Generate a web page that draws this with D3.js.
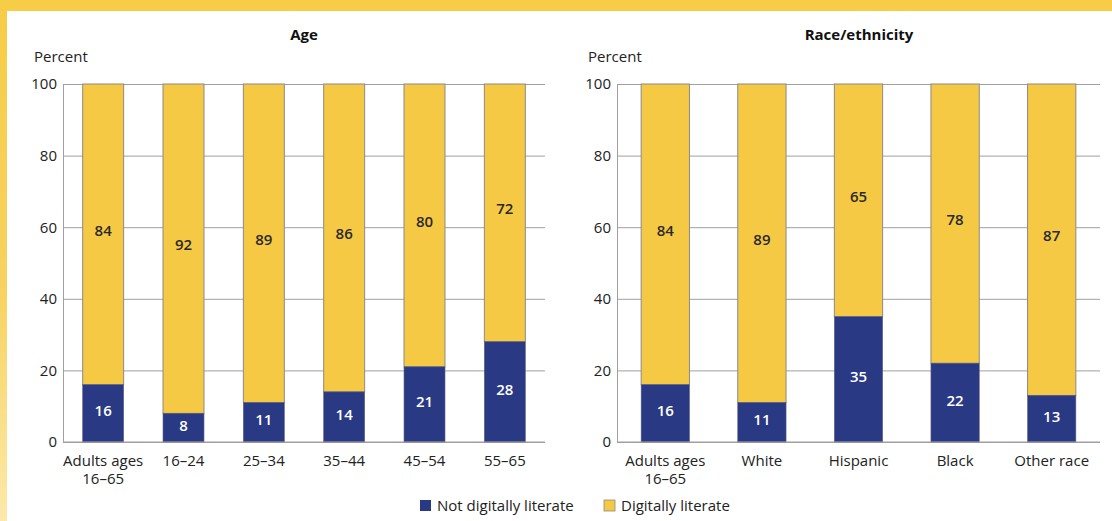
<!DOCTYPE html>
<html><head><meta charset="utf-8">
<script src="https://cdn.jsdelivr.net/npm/d3@7"></script>
<style>
html,body{margin:0;padding:0;background:#fff;}
svg{display:block;}
text{font-family:"Open Sans","Noto Sans",sans-serif;}
</style></head>
<body>
<script>
const ageCategories = [["Adults ages","16–65"],["16–24"],["25–34"],["35–44"],["45–54"],["55–65"]];
const ageNotLiterate = [16, 8, 11, 14, 21, 28];
const ageLiterate = [84, 92, 89, 86, 80, 72];
const raceCategories = [["Adults ages","16–65"],["White"],["Hispanic"],["Black"],["Other race"]];
const raceNotLiterate = [16, 11, 35, 22, 13];
const raceLiterate = [84, 89, 65, 78, 87];
const yTicks = [0, 20, 40, 60, 80, 100];
const seriesNames = ["Not digitally literate", "Digitally literate"];
const panelTitles = ["Age", "Race/ethnicity"];

const W = 1112, H = 521;
const NAVY = "#2a3984", YELLOW = "#f6c944", GRID = "#a0a0a0";
const FS = 15;
const svg = d3.select("body").append("svg").attr("width", W).attr("height", H);

const defs = svg.append("defs");
const lg = defs.append("linearGradient").attr("id","lg").attr("x1",0).attr("y1",0).attr("x2",0).attr("y2",1);
lg.append("stop").attr("offset","0%").attr("stop-color","#f7cc47");
lg.append("stop").attr("offset","55%").attr("stop-color","#f8d260");
lg.append("stop").attr("offset","100%").attr("stop-color","#fce9ab");
svg.append("rect").attr("x",0).attr("y",0).attr("width",W).attr("height",11).attr("fill","#f7cc47");
svg.append("rect").attr("x",0).attr("y",0).attr("width",7).attr("height",H).attr("fill","url(#lg)");

const y = d3.scaleLinear().domain([0,100]).range([442, 84]);

function panel(cfg){
  const g = svg.append("g");
  const x = d3.scaleBand().domain(d3.range(cfg.cats.length)).range([cfg.x0, cfg.x1])
    .paddingInner(cfg.pi).paddingOuter(cfg.po);
  g.append("text").attr("x", cfg.titleX).attr("y", 40).attr("text-anchor","middle")
    .attr("font-size",FS).attr("font-weight",700).attr("fill","#111").text(cfg.title);
  g.append("text").attr("x", cfg.percentX).attr("y", 62).attr("font-size",FS).attr("fill","#222").text("Percent");
  const ax = d3.axisLeft(y).tickValues(yTicks).tickSize(-(cfg.x1 - cfg.x0)).tickPadding(6);
  const ga = g.append("g").attr("transform",`translate(${cfg.x0},0)`).call(ax);
  ga.select(".domain").attr("stroke", GRID);
  ga.selectAll(".tick line").attr("stroke", GRID).attr("stroke-width",1);
  ga.selectAll(".tick text").attr("font-size",FS).attr("fill","#222")
    .attr("font-family",'"Open Sans","Noto Sans",sans-serif');
  cfg.cats.forEach((c,i)=>{
    const xb = x(i), bw = x.bandwidth();
    const nv = cfg.not[i], lv = cfg.lit[i];
    const top = Math.min(100, nv+lv);
    g.append("rect").attr("x", xb).attr("y", y(top)).attr("width", bw).attr("height", y(nv)-y(top))
      .attr("fill", YELLOW).attr("stroke","#8a8a8a").attr("stroke-width",1);
    g.append("rect").attr("x", xb).attr("y", y(nv)).attr("width", bw).attr("height", y(0)-y(nv))
      .attr("fill", NAVY).attr("stroke","#5a5f80").attr("stroke-width",0.6);
    g.append("text").attr("x", xb+bw/2).attr("y", y(nv/2)).attr("dy","0.2em").attr("text-anchor","middle")
      .attr("font-size",FS).attr("font-weight",600).attr("fill","#fff").text(nv);
    g.append("text").attr("x", xb+bw/2).attr("y", y((nv+top)/2)).attr("dy","0.1em").attr("text-anchor","middle")
      .attr("font-size",FS).attr("font-weight",600).attr("fill","#2a2a2a").text(lv);
    c.forEach((line,k)=>{
      g.append("text").attr("x", xb+bw/2).attr("y", 466 + k*18).attr("text-anchor","middle")
        .attr("font-size",FS).attr("fill","#222").text(line);
    });
  });
  g.append("line").attr("x1",cfg.x0).attr("x2",cfg.x1).attr("y1",y(0)).attr("y2",y(0)).attr("stroke",GRID).attr("stroke-width",1.2);
}

panel({cats: ageCategories, not: ageNotLiterate, lit: ageLiterate, x0: 63, x1: 545, pi: 0.49, po: 0.245,
  title: panelTitles[0], titleX: 304, percentX: 34});
panel({cats: raceCategories, not: raceNotLiterate, lit: raceLiterate, x0: 617, x1: 1100, pi: 0.5, po: 0.25,
  title: panelTitles[1], titleX: 859, percentX: 588});

const legend = svg.append("g");
const legX = [420, 604];
seriesNames.forEach((n,i)=>{
  legend.append("rect").attr("x", legX[i]).attr("y", 500).attr("width",11).attr("height",11)
    .attr("fill", i===0?NAVY:YELLOW).attr("stroke", i===0?"none":"#8a8a8a").attr("stroke-width",0.8);
  legend.append("text").attr("x", legX[i]+17).attr("y", 511).attr("font-size",FS).attr("fill","#222").text(n);
});
</script>
</body></html>
